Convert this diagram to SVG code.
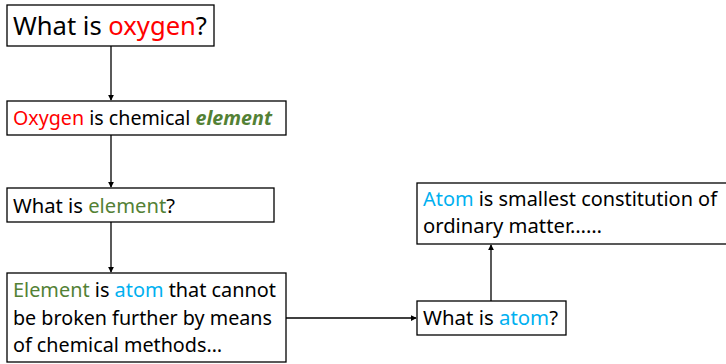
<svg xmlns="http://www.w3.org/2000/svg" width="726" height="364" viewBox="0 0 726 364">
<defs>
<style>
.box{fill:#fff;stroke:#000;stroke-width:1.3}
.t{font-family:"Noto Sans","Open Sans","Liberation Sans",Arial,sans-serif;fill:#000}
.l{font-size:19px}
.r{fill:#ff0000}
.g{fill:#538135}
.b{fill:#00b0f0}
.c{stroke:#000;stroke-width:1.3;fill:none;marker-end:url(#ah)}
</style>
<marker id="ah" viewBox="0 0 8 8" refX="7" refY="4" markerWidth="6" markerHeight="6" markerUnits="userSpaceOnUse" orient="auto">
<path d="M0,0 L8,4 L0,8 z" fill="#000"/>
</marker>
</defs>
<rect width="726" height="364" fill="#fff"/>
<g id="connectors">
<line class="c" x1="111" y1="46" x2="111" y2="100"/>
<line class="c" x1="111" y1="135" x2="111" y2="187"/>
<line class="c" x1="111" y1="222" x2="111" y2="272"/>
<line class="c" x1="286" y1="318" x2="416" y2="318"/>
<line class="c" x1="491" y1="301" x2="491" y2="245"/>
</g>
<g id="n1">
<rect class="box" x="7" y="5" width="207" height="41"/>
<text class="t" x="13" y="35" font-size="25" textLength="194" lengthAdjust="spacingAndGlyphs">What is <tspan class="r">oxygen</tspan>?</text>
</g>
<g id="n2">
<rect class="box" x="7" y="101" width="279" height="34"/>
<text class="t l" x="13" y="125" textLength="259" lengthAdjust="spacingAndGlyphs"><tspan class="r">Oxygen</tspan> is chemical <tspan class="g" font-weight="bold" font-style="italic">element</tspan></text>
</g>
<g id="n3">
<rect class="box" x="7" y="188" width="267" height="34"/>
<text class="t l" x="13" y="213" textLength="162" lengthAdjust="spacingAndGlyphs">What is <tspan class="g">element</tspan>?</text>
</g>
<g id="n4">
<rect class="box" x="7" y="273" width="279" height="89"/>
<text class="t l" x="13" y="297" textLength="263" lengthAdjust="spacingAndGlyphs"><tspan class="g">Element</tspan> is <tspan class="b">atom</tspan> that cannot</text>
<text class="t l" x="13" y="325" textLength="259" lengthAdjust="spacingAndGlyphs">be broken further by means</text>
<text class="t l" x="13" y="352" textLength="209" lengthAdjust="spacingAndGlyphs">of chemical methods…</text>
</g>
<g id="n5">
<rect class="box" x="417" y="301" width="149" height="34"/>
<text class="t l" x="423" y="325" textLength="135" lengthAdjust="spacingAndGlyphs">What is <tspan class="b">atom</tspan>?</text>
</g>
<g id="n6">
<rect class="box" x="417" y="183" width="312" height="61"/>
<text class="t l" x="423" y="206" textLength="294" lengthAdjust="spacingAndGlyphs"><tspan class="b">Atom</tspan> is smallest constitution of</text>
<text class="t l" x="423" y="233" textLength="179" lengthAdjust="spacingAndGlyphs">ordinary matter……</text>
</g>
</svg>
